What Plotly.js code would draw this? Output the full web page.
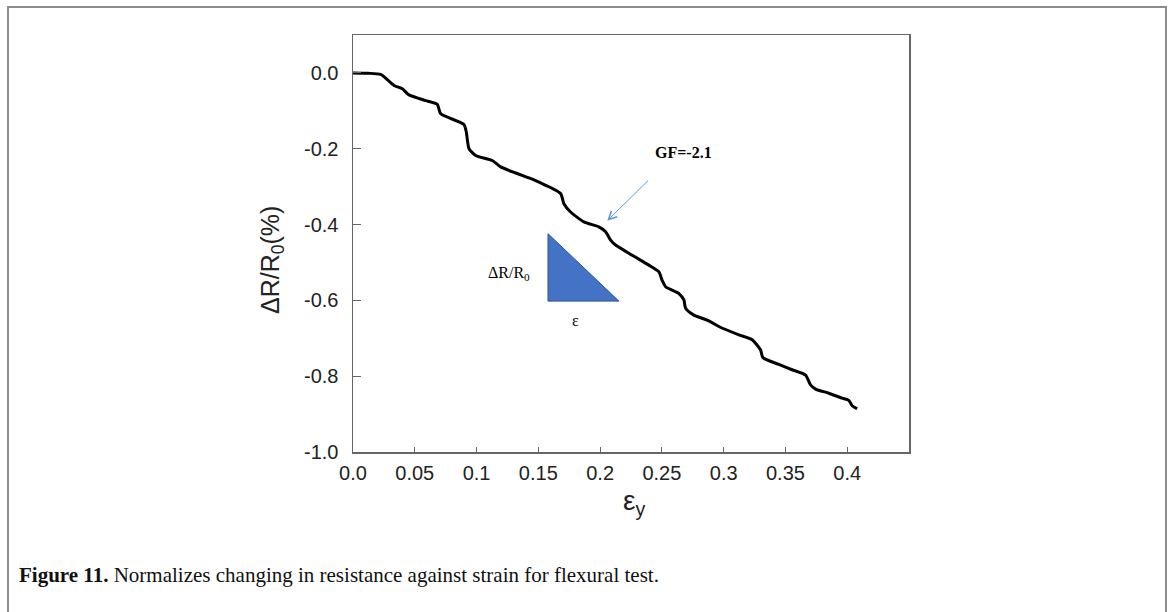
<!DOCTYPE html>
<html>
<head>
<meta charset="utf-8">
<script src="https://cdn.plot.ly/plotly-3.0.1.min.js"></script>
<style>
  html, body { margin: 0; padding: 0; width: 1171px; height: 612px; overflow: hidden; background: #fff; }
  #chart { position: absolute; left: 0; top: 0; width: 1171px; height: 612px; }
  #frame { position: absolute; left: 7px; top: 6px; width: 1156px; height: 700px;
           border: 2px solid #8c8c8c; border-bottom: none; pointer-events: none; z-index: 5; }
</style>
</head>
<body>
<div id="chart"></div>
<div id="frame"></div>
<script>
// Strain (x) and normalized resistance change in % (y)
const strain = [0, 0.012, 0.0224, 0.0332, 0.0399, 0.0453, 0.0588, 0.0682, 0.071, 0.0898, 0.0917, 0.0939,
  0.0993, 0.1127, 0.1195, 0.1316, 0.1424, 0.1505, 0.168, 0.1707, 0.1761, 0.1869, 0.199, 0.2045,
  0.2085, 0.2125, 0.226, 0.2395, 0.2476, 0.2502, 0.253, 0.2638, 0.2678, 0.2692, 0.2759, 0.288,
  0.2961, 0.3123, 0.3231, 0.3299, 0.3317, 0.3447, 0.3554, 0.3663, 0.3703, 0.3744, 0.3851, 0.3959,
  0.4013, 0.404, 0.408];
const dR = [0, -0.001, -0.004, -0.033, -0.042, -0.058, -0.073, -0.083, -0.108, -0.136, -0.156, -0.2,
  -0.218, -0.231, -0.248, -0.264, -0.277, -0.288, -0.318, -0.345, -0.367, -0.393, -0.406, -0.419,
  -0.441, -0.454, -0.481, -0.507, -0.525, -0.547, -0.564, -0.582, -0.599, -0.621, -0.639, -0.654,
  -0.669, -0.691, -0.704, -0.731, -0.751, -0.769, -0.783, -0.797, -0.823, -0.834, -0.845, -0.858,
  -0.864, -0.878, -0.886];

// Slope triangle (gauge-factor illustration)
const triX = [0.1578, 0.1578, 0.2152, 0.1578];
const triY = [-0.424, -0.602, -0.602, -0.424];

// Tick labels
const xTickVals = [0, 0.05, 0.1, 0.15, 0.2, 0.25, 0.3, 0.35, 0.4];
const xTickText = ["0.0", "0.05", "0.1", "0.15", "0.2", "0.25", "0.3", "0.35", "0.4"];
const yTickVals = [0, -0.2, -0.4, -0.6, -0.8, -1.0];
const yTickText = ["0.0", "-0.2", "-0.4", "-0.6", "-0.8", "-1.0"];

const traces = [
  {
    x: triX, y: triY, type: 'scatter', mode: 'lines', fill: 'toself',
    fillcolor: '#4472C4', line: {color: '#2F5597', width: 1}, hoverinfo: 'skip', showlegend: false
  },
  {
    x: strain, y: dR, type: 'scatter', mode: 'lines',
    line: {color: '#000000', width: 3, shape: 'spline', smoothing: 0.6}, showlegend: false
  }
];

const axisFont = {family: 'Liberation Sans, Arial, sans-serif', size: 20, color: '#222'};

const layout = {
  width: 1171, height: 612,
  margin: {l: 353, r: 262, t: 35, b: 160, pad: 0},
  paper_bgcolor: '#ffffff', plot_bgcolor: '#ffffff',
  showlegend: false,
  xaxis: {
    range: [0, 0.45], tickmode: 'array', tickvals: xTickVals, ticktext: xTickText,
    ticks: 'inside', ticklen: 5, tickwidth: 1, tickcolor: '#666',
    showline: true, linecolor: '#666', linewidth: 1.5, mirror: true,
    showgrid: false, zeroline: false, tickfont: axisFont, ticklabelstandoff: 2
  },
  yaxis: {
    range: [-1.0, 0.1], tickmode: 'array', tickvals: yTickVals, ticktext: yTickText,
    ticks: 'inside', ticklen: 8, tickwidth: 1, tickcolor: '#666',
    showline: true, linecolor: '#666', linewidth: 1.5, mirror: true,
    showgrid: false, zeroline: false, tickfont: axisFont, ticklabelstandoff: 9
  },
  annotations: [
    {
      xref: 'paper', yref: 'paper', x: (272 - 353) / 556, y: (452 - 260) / 417,
      xanchor: 'center', yanchor: 'middle', textangle: -90,
      text: 'ΔR/R<sub>0</sub>(%)', showarrow: false,
      font: {family: 'Liberation Sans, Arial, sans-serif', size: 25, color: '#222'}
    },
    {
      xref: 'paper', yref: 'paper', x: (634 - 353) / 556, y: (452 - 503) / 417,
      xanchor: 'center', yanchor: 'middle',
      text: 'ε<sub>y</sub>', showarrow: false,
      font: {family: 'Liberation Sans, Arial, sans-serif', size: 28, color: '#222'}
    },
    {
      xref: 'x', yref: 'y', x: 0.2678, y: -0.21, xanchor: 'center', yanchor: 'middle',
      text: '<b>GF=-2.1</b>', showarrow: false,
      font: {family: 'Liberation Serif, Times New Roman, serif', size: 16, color: '#000'}
    },
    {
      xref: 'x', yref: 'y', axref: 'x', ayref: 'y',
      x: 0.2058, y: -0.39, ax: 0.2401, ay: -0.28, text: '',
      showarrow: true, arrowhead: 5, arrowsize: 1.6, arrowwidth: 1, arrowcolor: '#5B9BD5', standoff: 0
    },
    {
      xref: 'x', yref: 'y', x: 0.1265, y: -0.529, xanchor: 'center', yanchor: 'middle',
      text: 'ΔR/R<sub>0</sub>', showarrow: false,
      font: {family: 'Liberation Serif, Times New Roman, serif', size: 16, color: '#000'}
    },
    {
      xref: 'x', yref: 'y', x: 0.1804, y: -0.652, xanchor: 'center', yanchor: 'middle',
      text: 'ε', showarrow: false,
      font: {family: 'Liberation Serif, Times New Roman, serif', size: 16, color: '#000'}
    },
    {
      xref: 'paper', yref: 'paper', x: (17 - 353) / 556, y: (452 - 575) / 417,
      xanchor: 'left', yanchor: 'middle', showarrow: false,
      text: '<b>Figure 11.</b> Normalizes changing in resistance against strain for flexural test.',
      font: {family: 'Liberation Serif, Times New Roman, serif', size: 21, color: '#111'}
    }
  ]
};

Plotly.newPlot('chart', traces, layout, {displayModeBar: false, staticPlot: true});
</script>
</body>
</html>
